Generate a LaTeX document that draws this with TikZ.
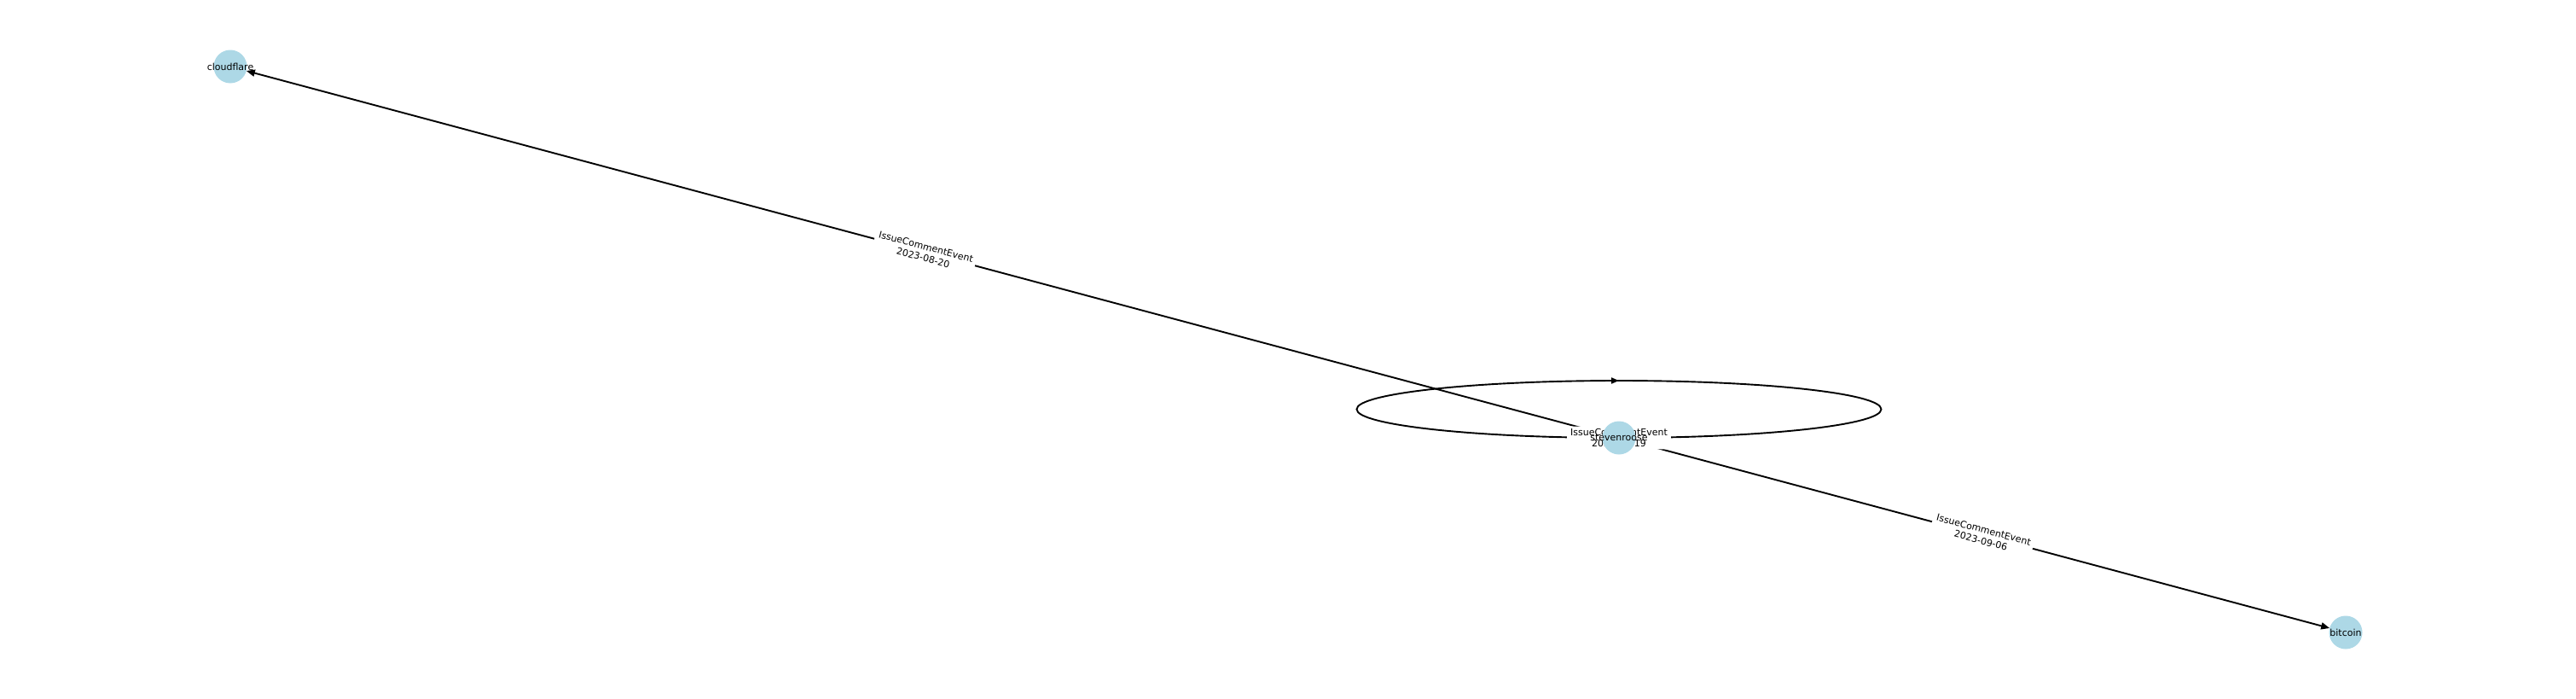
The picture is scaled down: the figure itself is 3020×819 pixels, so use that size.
\documentclass[tikz,border=0pt]{standalone}
\usepackage{fontspec}
\setmainfont{DejaVu Sans}
\usetikzlibrary{arrows.meta,decorations.markings}
\definecolor{nodeblue}{RGB}{173,216,230}
\pgfdeclarelayer{bg}
\pgfsetlayers{bg,main}
\tikzset{
  vertex/.style={circle, fill=nodeblue, minimum size=39pt, inner sep=0pt, outer sep=0pt,
    font=\fontsize{11}{13.2}\selectfont, text=black},
  link/.style={line width=1.9pt, draw=black, -{Triangle[length=10pt,width=8pt]}},
  looplink/.style={line width=1.9pt, draw=black, postaction={decorate},
    decoration={markings, mark=at position 0.5 with {\arrow{Triangle[length=9pt,width=7pt]}}}},
  lbl/.style={fill=white, rounded corners=3pt, inner xsep=4pt, inner ysep=2.5pt, align=center,
    font=\fontsize{11}{13.2}\selectfont, text=black}
}
\begin{document}
\begin{tikzpicture}[x=1pt,y=1pt]
\useasboundingbox (0,0) rectangle (3020,-819);
\node[vertex] (cf) at (270,-78) {\makebox[0pt]{cloudflare}};
\node[vertex] (st) at (1898,-513) {\makebox[0pt]{stevenroose}};
\node[vertex] (bt) at (2750,-741) {\makebox[0pt]{bitcoin}};
\begin{pgfonlayer}{bg}
\draw[link] (st) -- node[lbl, midway, sloped] {IssueCommentEvent\\2023-08-20} (cf);
\draw[link] (st) -- node[lbl, midway, sloped] {IssueCommentEvent\\2023-09-06} (bt);
\draw[looplink] (st.center) arc[start angle=270, end angle=-90, x radius=307.5, y radius=33.5];
\node[lbl] (looplabel) at (st.center) {IssueCommentEvent\\2023-09-19};
\end{pgfonlayer}
\end{tikzpicture}
\end{document}
